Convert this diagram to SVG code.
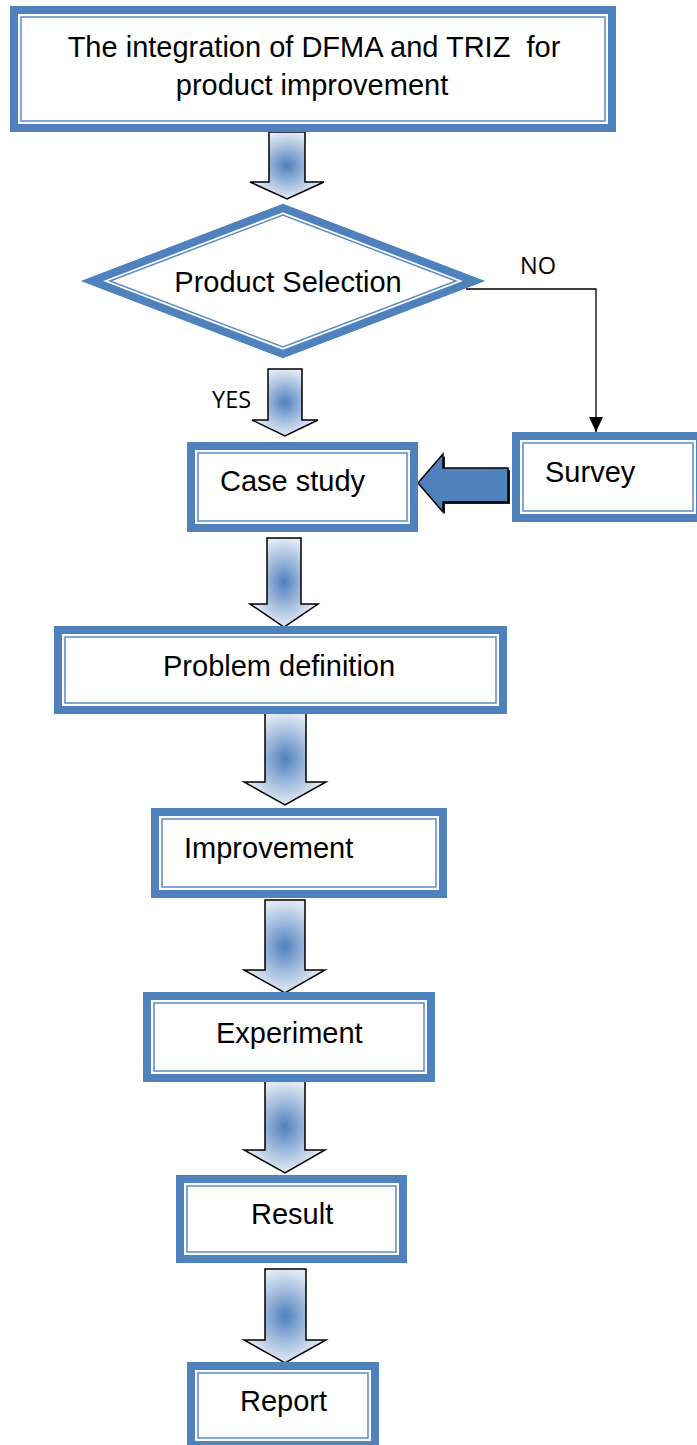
<svg xmlns="http://www.w3.org/2000/svg" width="697" height="1445" viewBox="0 0 697 1445">
<defs>
<radialGradient id="g" cx="0.5" cy="0.5" r="0.5">
<stop offset="0" stop-color="#4F81BD"/>
<stop offset="0.55" stop-color="#A3BCDD"/>
<stop offset="1" stop-color="#E2EAF5"/>
</radialGradient>
<marker id="ah" markerUnits="userSpaceOnUse" markerWidth="15" markerHeight="14" refX="15" refY="7" orient="auto" viewBox="0 0 15 14">
<path d="M0,0 L15,7 L0,14 z" fill="#000"/>
</marker>
</defs>
<style>
.o{fill:#fff;stroke:#4F81BD;stroke-width:8;stroke-linejoin:miter}
.i{fill:none;stroke:#5B8BC8;stroke-width:1.5}
.t{font-family:"Liberation Sans",Arial,sans-serif;font-size:29px;fill:#000}
.s{font-family:"Open Sans","Liberation Sans",sans-serif;font-size:23.5px;fill:#000}
.ba{fill:url(#g);stroke:#000;stroke-width:1.5;stroke-linejoin:miter}
.ln{fill:none;stroke:#000;stroke-width:1.3}
</style>
<rect width="697" height="1445" fill="#fff"/>

<g id="connectors">
<path class="ln" d="M466,289 H596 V432" marker-end="url(#ah)"/>
<polygon points="420,485 445,456 445,470 510,470 510,504 445,504 445,514" fill="#1a1a1a"/>
<polygon points="418,483 443,454 443,468 508,468 508,502 443,502 443,512" fill="#4F81BD" stroke="#000" stroke-width="1.5"/>
<polygon class="ba" points="269,132 305,132 305,182 324,182 287,199 250,182 269,182"/>
<polygon class="ba" points="268,369 302,369 302,420 318,420 285,436 252,420 268,420"/>
<polygon class="ba" points="267,538 301,538 301,604 318,604 284,627 250,604 267,604"/>
<polygon class="ba" points="265,713 306,713 306,782 326,782 285,805 244,782 265,782"/>
<polygon class="ba" points="265,900 305,900 305,970 325,970 285,993 244,970 265,970"/>
<polygon class="ba" points="265,1081 305,1081 305,1150 325,1150 285,1173 244,1150 265,1150"/>
<polygon class="ba" points="265,1269 306,1269 306,1340 326,1340 285,1363 244,1340 265,1340"/>
<text class="s" x="212" y="408">YES</text>
<text class="s" x="520" y="274">NO</text>
</g>

<g id="start">
<rect class="o" x="14" y="10" width="598" height="118"/>
<rect class="i" x="21" y="17" width="584" height="104"/>
<text class="t" x="314" y="57" text-anchor="middle" style="white-space:pre">The integration of DFMA and TRIZ  for</text>
<text class="t" x="312" y="95" text-anchor="middle">product improvement</text>
</g>

<g id="product-selection">
<polygon class="o" points="92,281 283,208 474,281 283,354"/>
<polygon class="i" points="110,281 283,215 456,281 283,347"/>
<text class="t" x="288" y="292" text-anchor="middle">Product Selection</text>
</g>

<g id="case-study">
<rect class="o" x="191" y="446" width="223" height="82"/>
<rect class="i" x="198" y="453" width="209" height="68"/>
<text class="t" x="220" y="491">Case study</text>
</g>

<g id="survey">
<rect class="o" x="516" y="436" width="184" height="82"/>
<rect class="i" x="523" y="443" width="170" height="68"/>
<text class="t" x="545" y="482">Survey</text>
</g>

<g id="problem-definition">
<rect class="o" x="58" y="630" width="445" height="80"/>
<rect class="i" x="65" y="637" width="431" height="66"/>
<text class="t" x="163" y="676">Problem definition</text>
</g>

<g id="improvement">
<rect class="o" x="155" y="812" width="288" height="82"/>
<rect class="i" x="162" y="819" width="274" height="68"/>
<text class="t" x="184" y="858">Improvement</text>
</g>

<g id="experiment">
<rect class="o" x="147" y="996" width="284" height="82"/>
<rect class="i" x="154" y="1003" width="270" height="68"/>
<text class="t" x="216" y="1043">Experiment</text>
</g>

<g id="result">
<rect class="o" x="180" y="1179" width="223" height="80"/>
<rect class="i" x="187" y="1186" width="209" height="66"/>
<text class="t" x="251" y="1224">Result</text>
</g>

<g id="report">
<rect class="o" x="191" y="1366" width="184" height="79"/>
<rect class="i" x="198" y="1373" width="170" height="65"/>
<text class="t" x="240" y="1411">Report</text>
</g>
</svg>
